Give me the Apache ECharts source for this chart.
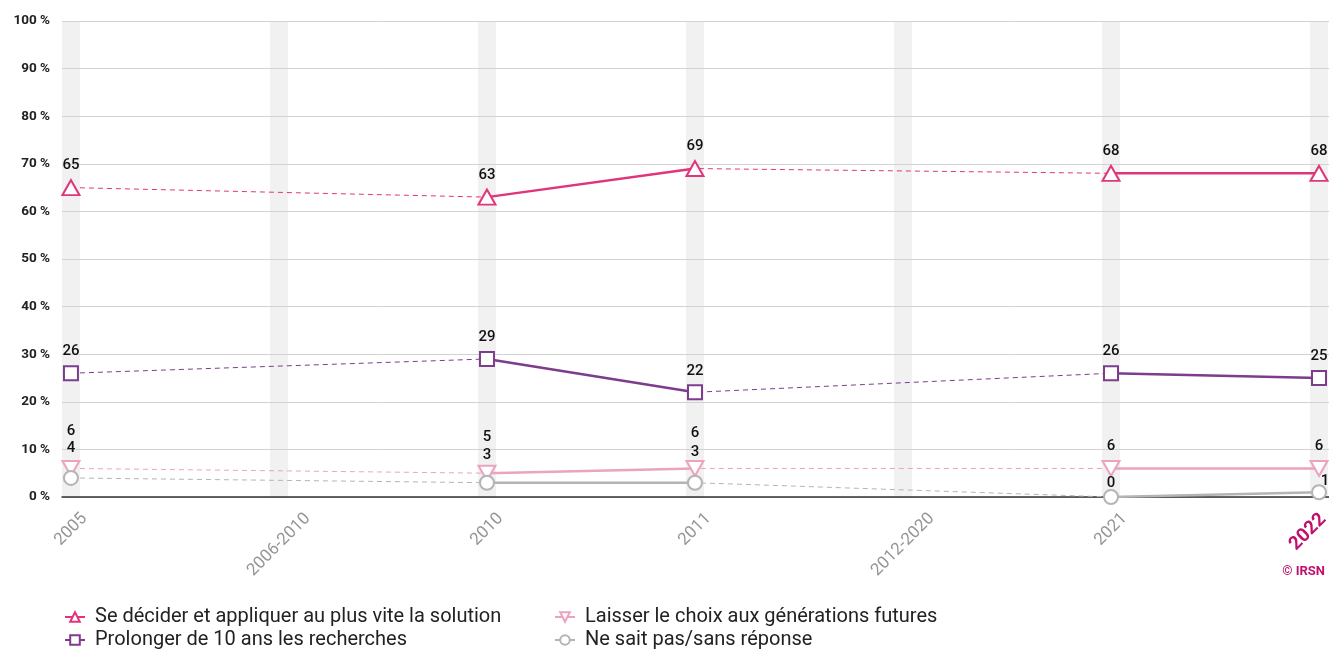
<!DOCTYPE html>
<html>
<head>
<meta charset="utf-8">
<script src="https://cdn.jsdelivr.net/npm/echarts@6/dist/echarts.min.js"></script>
<style>
    html, body { margin: 0; padding: 0; background: #fff; }
    #chart { width: 1329px; height: 650px; }
</style>
</head>
<body>
<div id="chart"></div>
<script>
const categories = ['2005', '2006-2010', '2010', '2011', '2012-2020', '2021', '2022'];
const yTicks = [0, 10, 20, 30, 40, 50, 60, 70, 80, 90, 100];

const decider = [65, null, 63, 69, null, 68, 68];
const prolonger = [26, null, 29, 22, null, 26, 25];
const laisser = [6, null, 5, 6, null, 6, 6];
const neSaitPas = [4, null, 3, 3, null, 0, 1];

const names = [
    'Se décider et appliquer au plus vite la solution',
    'Prolonger de 10 ans les recherches',
    'Laisser le choix aux générations futures',
    'Ne sait pas/sans réponse'
];

// label nudges (pixels) where labels would collide near the bottom
const nudgeLaisser = [[0, -15], [0, 0], [0, -14], [0, -13], [0, 0], [0, 0], [0, 0]];
const nudgeNeSait = [[0, -8], [0, 0], [0, -6], [0, -9], [0, 0], [0, 8], [6, 11]];

const colors = ['#e0357d', '#7d3c8c', '#eba3c0', '#b4b4b4'];
const symbols = ['triangle', 'rect', 'triangle', 'circle'];
const highlightYear = '2022';

function markerData(values, nudges) {
    return values.map((v, i) => {
        if (v === null) return [i, '-'];
        const item = { value: [i, v] };
        if (nudges) item.label = { offset: nudges[i] };
        return item;
    });
}

function dashedData(values) {
    const out = [];
    values.forEach((v, i) => { if (v !== null) out.push([i, v]); });
    return out;
}

function buildSeries(name, values, color, symbol, nudges, rotate) {
    return [
        {
            name: name,
            type: 'line',
            data: markerData(values, nudges),
            symbol: symbol,
            symbolSize: symbol === 'triangle' ? [17, 15] : 14,
            symbolRotate: rotate || 0,
            showSymbol: true,
            lineStyle: { color: color, width: 2.5 },
            itemStyle: { color: '#fff', borderColor: color, borderWidth: 2 },
            label: {
                show: true,
                position: 'top',
                distance: 6,
                fontSize: 15,
                fontWeight: 500,
                color: '#111',
                formatter: p => p.value[1]
            },
            z: 3
        },
        {
            name: name,
            type: 'line',
            data: dashedData(values),
            symbol: 'none',
            silent: true,
            lineStyle: { color: color, width: 1, type: [5, 4] },
            z: 2
        }
    ];
}

// rotated x labels: top edges lined up, centred on their tick
const measureCtx = document.createElement('canvas').getContext('2d');
function xLabelRich() {
    const rich = {};
    categories.forEach((c, i) => {
        const hl = c === highlightYear;
        const size = hl ? 19 : 17;
        const weight = hl ? 'bold' : 'normal';
        measureCtx.font = weight + ' ' + size + 'px Roboto';
        const w = measureCtx.measureText(c).width;
        const side = (w + size) * Math.SQRT1_2;
        const dx = hl ? -11 : 0;
        const dy = side / 2 - 3;
        const a = (dy - dx) / Math.SQRT2;
        const b = (dy + dx) / Math.SQRT2;
        rich['c' + i] = {
            fontSize: size,
            fontWeight: weight,
            fontFamily: 'Roboto',
            color: hl ? '#c0106e' : '#959595',
            lineHeight: size,
            padding: [b > 0 ? 2 * b : 0, a > 0 ? 2 * a : 0, b < 0 ? -2 * b : 0, a < 0 ? -2 * a : 0]
        };
    });
    return rich;
}

const chart = echarts.init(document.getElementById('chart'));

const series = [].concat(
    buildSeries(names[0], decider, colors[0], symbols[0], null, 0),
    buildSeries(names[1], prolonger, colors[1], symbols[1], null, 0),
    buildSeries(names[2], laisser, colors[2], symbols[2], nudgeLaisser, 180),
    buildSeries(names[3], neSaitPas, colors[3], symbols[3], nudgeNeSait, 0)
);

// grey bands behind each category
series.unshift({
    type: 'bar',
    data: categories.map((c, i) => [i, yTicks[yTicks.length - 1]]),
    barWidth: 18,
    silent: true,
    itemStyle: { color: '#f1f1f1' },
    z: -1
});

const legendPlaces = [[64, 607], [64, 630], [554, 607], [554, 630]];

const option = {
    animation: false,
    textStyle: { fontFamily: 'Roboto' },
    grid: { left: 62, right: 0, top: 21, bottom: 153, containLabel: false, outerBoundsMode: 'none' },
    xAxis: {
        type: 'value',
        min: -0.043,
        max: 6.048,
        splitLine: { show: false },
        axisTick: { show: false },
        axisLine: { show: true, lineStyle: { color: '#333', width: 1.5 } },
        axisLabel: {
            customValues: categories.map((c, i) => i),
            rotate: 45,
            margin: 16,
            align: 'center',
            verticalAlign: 'middle',
            formatter: v => '{c' + v + '|' + categories[v] + '}',
            rich: xLabelRich()
        }
    },
    yAxis: {
        type: 'value',
        min: 0,
        max: 100,
        interval: 10,
        axisLine: { show: false },
        axisTick: { show: false },
        splitLine: { lineStyle: { color: '#d2d2d2', width: 1 } },
        axisLabel: {
            margin: 12,
            fontSize: 13.5,
            fontWeight: 'bold',
            color: '#222',
            formatter: '{value} %'
        }
    },
    legend: names.map((n, i) => ({
        data: [n],
        left: legendPlaces[i][0],
        top: legendPlaces[i][1],
        padding: 0,
        itemWidth: 20,
        itemHeight: 12,
        textStyle: { fontSize: 20, color: '#222', padding: [0, 0, 0, 5] }
    })),
    graphic: [{
        type: 'text',
        right: 4,
        top: 565,
        style: {
            text: '© IRSN',
            fill: '#c0106e',
            font: 'bold 13px Roboto'
        }
    }],
    series: series
};

chart.setOption(option);
</script>
</body>
</html>
